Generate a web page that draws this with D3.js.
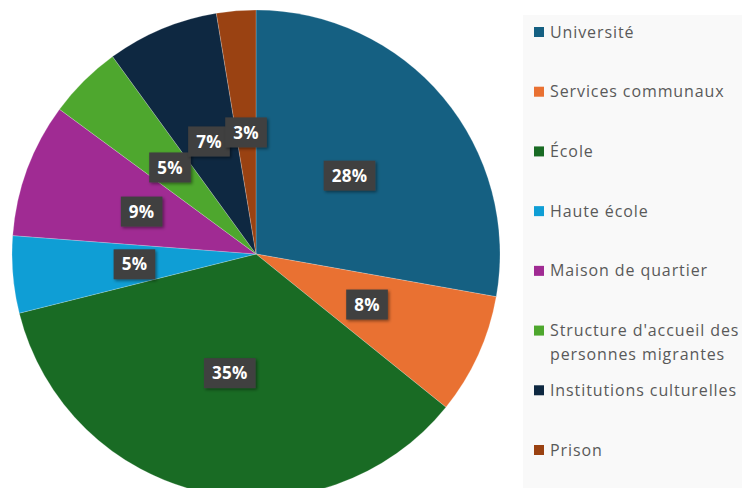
<!DOCTYPE html>
<html>
<head>
<meta charset="utf-8">
<script src="https://cdn.jsdelivr.net/npm/d3@7"></script>
<style>
  body { margin: 0; background: #fff; }
  svg { display: block; font-family: "Open Sans", "Noto Sans", sans-serif; }
</style>
</head>
<body>
<div class="pie"></div>
<script>
const categories = ["Université", "Services communaux", "École", "Haute école",
  "Maison de quartier", "Structure d'accueil des personnes migrantes",
  "Institutions culturelles", "Prison"];
const values = [27.8, 8.0, 35.3, 5.1, 8.9, 4.9, 7.4, 2.6];
const colors = ["#156082", "#e97132", "#196b24", "#0f9ed5", "#a02b93", "#4ea72e", "#0e2841", "#9a4212"];
const legendLines = [["Université"], ["Services communaux"], ["École"], ["Haute école"],
  ["Maison de quartier"], ["Structure d'accueil des", "personnes migrantes"],
  ["Institutions culturelles"], ["Prison"]];

const width = 742, height = 488;
const cx = 256, cy = 254, radius = 244;

const svg = d3.select(".pie")
  .append("svg")
  .attr("width", width)
  .attr("height", height);

const defs = svg.append("defs");
const shadow = defs.append("filter").attr("id", "shadow")
  .attr("x", "-30%").attr("y", "-30%").attr("width", "160%").attr("height", "160%");
shadow.append("feDropShadow")
  .attr("dx", 1.5).attr("dy", 1.5).attr("stdDeviation", 1.5)
  .attr("flood-color", "#000").attr("flood-opacity", 0.45);

const color = d3.scaleOrdinal().domain(categories).range(colors);
const total = d3.sum(values);
const pct = d3.format(".0%");

const pie = d3.pie().sort(null).value(d => d.value);
const arcs = pie(categories.map((c, i) => ({ name: c, value: values[i] })));

const arc = d3.arc().innerRadius(0).outerRadius(radius);

const g = svg.append("g").attr("transform", `translate(${cx},${cy})`);

g.selectAll("path")
  .data(arcs)
  .enter().append("path")
  .attr("d", arc)
  .attr("fill", d => color(d.data.name))
  .attr("stroke", "rgba(255,255,255,0.35)")
  .attr("stroke-width", 0.6);

const labels = g.selectAll(".lbl")
  .data(arcs)
  .enter().append("g")
  .attr("class", "lbl")
  .attr("transform", d => `translate(${arc.centroid(d)})`);

labels.append("text")
  .attr("text-anchor", "middle")
  .attr("dy", "0.36em")
  .attr("fill", "#fff")
  .attr("font-weight", "bold")
  .attr("font-size", 17)
  .attr("letter-spacing", 0.3)
  .text(d => pct(d.data.value / total));

labels.each(function () {
  const sel = d3.select(this);
  const bb = sel.select("text").node().getBBox();
  sel.insert("rect", "text")
    .attr("x", bb.x - 8)
    .attr("y", -15)
    .attr("width", bb.width + 16)
    .attr("height", 30)
    .attr("fill", "#404040")
    .attr("filter", "url(#shadow)");
});

// legend
const legend = svg.append("g");
legend.append("rect")
  .attr("x", 523).attr("y", 15)
  .attr("width", width - 523).attr("height", height - 15)
  .attr("fill", "#f9f9f9");

const legendY = d3.scalePoint().domain(categories).range([32, 450]);

const items = legend.selectAll(".item")
  .data(categories)
  .enter().append("g")
  .attr("class", "item")
  .attr("transform", d => `translate(534,${legendY(d)})`);

items.append("rect")
  .attr("x", 0).attr("y", -5)
  .attr("width", 10).attr("height", 10)
  .attr("fill", d => color(d));

items.append("text")
  .attr("x", 16)
  .attr("fill", "#595959")
  .attr("font-size", 16)
  .attr("letter-spacing", 0.9)
  .selectAll("tspan")
  .data((d, i) => legendLines[i])
  .enter().append("tspan")
  .attr("x", 16)
  .attr("dy", (d, j) => j === 0 ? "0.35em" : "1.5em")
  .text(d => d);
</script>
</body>
</html>
